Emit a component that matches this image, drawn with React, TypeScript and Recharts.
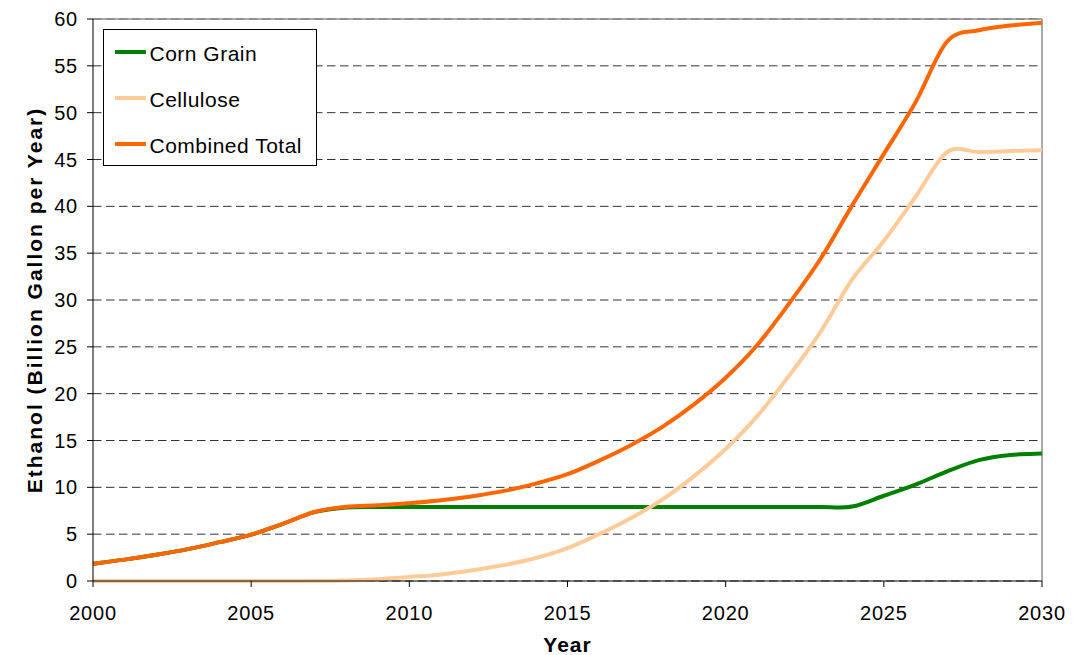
import React from 'react';
import { LineChart, Line, XAxis, YAxis, CartesianGrid, Legend, ReferenceLine } from 'recharts';

const FONT = '"Liberation Sans", Arial, Helvetica, sans-serif';

// Annual ethanol production outlook, billion gallons per year
const years = [
  2000, 2001, 2002, 2003, 2004, 2005, 2006, 2007, 2008, 2009,
  2010, 2011, 2012, 2013, 2014, 2015, 2016, 2017, 2018, 2019,
  2020, 2021, 2022, 2023, 2024, 2025, 2026, 2027, 2028, 2029, 2030,
];

const cornGrain = [
  1.85, 2.28, 2.8, 3.4, 4.15, 4.95, 6.1, 7.35, 7.85, 7.9,
  7.9, 7.9, 7.9, 7.9, 7.9, 7.9, 7.9, 7.9, 7.9, 7.9,
  7.9, 7.9, 7.9, 7.9, 7.95, 9.1, 10.3, 11.7, 12.9, 13.45, 13.6,
];

const cellulose = [
  0, 0, 0, 0, 0, 0, 0.01, 0.02, 0.06, 0.19,
  0.43, 0.7, 1.15, 1.7, 2.45, 3.5, 5.0, 6.7, 8.7, 11.2,
  14.1, 17.6, 21.9, 26.6, 32.2, 36.3, 41.0, 45.8, 45.8, 45.9, 46.0,
];

const combinedTotal = [
  1.85, 2.28, 2.8, 3.4, 4.15, 4.95, 6.1, 7.37, 7.92, 8.09,
  8.3, 8.62, 9.05, 9.62, 10.4, 11.4, 12.85, 14.5, 16.45, 18.85,
  21.7, 25.2, 29.6, 34.4, 40.1, 45.6, 51.1, 57.6, 58.8, 59.3, 59.6,
];

const xTicks = [2000, 2005, 2010, 2015, 2020, 2025, 2030];
const yTicks = [0, 5, 10, 15, 20, 25, 30, 35, 40, 45, 50, 55, 60];

const seriesNames = ['Corn Grain', 'Cellulose', 'Combined Total'];

const data = years.map((year, i) => ({
  year,
  corn: cornGrain[i],
  cellulose: cellulose[i],
  total: combinedTotal[i],
}));

// Smoothed line in the style of spreadsheet charts: each segment is a cubic
// Bezier whose handles follow the neighbouring points (Catmull-Rom, 1/6 tension).
function smoothCurve(context: any) {
  let pts: number[][] = [];
  return {
    areaStart() {},
    areaEnd() {},
    lineStart() {
      pts = [];
    },
    point(x: number, y: number) {
      pts.push([+x, +y]);
    },
    lineEnd() {
      const n = pts.length;
      if (!n) return;
      context.moveTo(pts[0][0], pts[0][1]);
      for (let i = 0; i < n - 1; i++) {
        const p0 = pts[Math.max(i - 1, 0)];
        const p1 = pts[i];
        const p2 = pts[i + 1];
        const p3 = pts[Math.min(i + 2, n - 1)];
        context.bezierCurveTo(
          p1[0] + (p2[0] - p0[0]) / 6,
          p1[1] + (p2[1] - p0[1]) / 6,
          p2[0] - (p3[0] - p1[0]) / 6,
          p2[1] - (p3[1] - p1[1]) / 6,
          p2[0],
          p2[1]
        );
      }
    },
  };
}

const LegendBox = (props: any) => {
  const items = [...(props.payload ?? [])].sort(
    (a: any, b: any) => seriesNames.indexOf(a.value) - seriesNames.indexOf(b.value)
  );
  return (
    <div
      style={{
        width: 214,
        height: 137,
        border: '1px solid #000',
        background: '#fff',
        boxSizing: 'border-box',
        fontFamily: FONT,
        color: '#000',
      }}
    >
      {items.map((it: any) => (
        <div key={it.value} style={{ height: 46, position: 'relative' }}>
          <div
            style={{
              position: 'absolute',
              left: 11,
              top: 19.5,
              width: 31,
              height: 4,
              background: it.color,
            }}
          />
          <span
            style={{
              position: 'absolute',
              left: 45.5,
              top: 12,
              fontSize: 21,
              lineHeight: '24px',
              letterSpacing: 0.5,
              whiteSpace: 'nowrap',
            }}
          >
            {it.value}
          </span>
        </div>
      ))}
    </div>
  );
};

const YTitle = (props: any) => {
  const vb = props.viewBox;
  const cy = vb ? vb.y + vb.height / 2 : 300;
  const bx = 42;
  return (
    <text
      x={bx}
      y={cy}
      transform={`rotate(-90 ${bx} ${cy})`}
      textAnchor="middle"
      fontFamily={FONT}
      fontSize={21}
      fontWeight="bold"
      letterSpacing={2}
      fill="#000"
    >
      Ethanol (Billion Gallon per Year)
    </text>
  );
};

const XTitle = (props: any) => {
  const vb = props.viewBox;
  const cx = vb ? vb.x + vb.width / 2 : 567;
  return (
    <text
      x={cx}
      y={651.5}
      textAnchor="middle"
      fontFamily={FONT}
      fontSize={21}
      fontWeight="bold"
      letterSpacing={1}
      fill="#000"
    >
      Year
    </text>
  );
};

const tickStyle = { fill: '#000', fontSize: 20, fontFamily: FONT, letterSpacing: 0.8 };

export default function App() {
  return (
    <div
      style={{
        position: 'absolute',
        left: 0,
        top: 0,
        width: 1080,
        height: 655,
        background: '#fff',
        fontFamily: FONT,
      }}
    >
      <LineChart
        width={1080}
        height={655}
        data={data}
        margin={{ top: 19, right: 38, bottom: 0, left: 0 }}
      >
        <CartesianGrid vertical={false} stroke="#333" strokeDasharray="8.5 4.5" />
        <XAxis
          dataKey="year"
          type="number"
          domain={[2000, 2030]}
          ticks={xTicks}
          interval={0}
          height={74}
          axisLine={{ stroke: '#000', strokeWidth: 1 }}
          tickLine={{ stroke: '#000' }}
          tickSize={6}
          tickMargin={19}
          tick={tickStyle}
          label={<XTitle />}
        />
        <YAxis
          type="number"
          domain={[0, 60]}
          ticks={yTicks}
          interval={0}
          width={93}
          axisLine={{ stroke: '#000', strokeWidth: 1 }}
          tickLine={{ stroke: '#000' }}
          tickSize={6}
          tickMargin={9}
          tick={tickStyle}
          label={<YTitle />}
        />
        <ReferenceLine y={60} stroke="#8c8c8c" strokeWidth={1.5} />
        <ReferenceLine x={2030} stroke="#8c8c8c" strokeWidth={1.5} />
        <Legend
          layout="vertical"
          align="center"
          verticalAlign="middle"
          content={<LegendBox />}
          wrapperStyle={{ left: 103, top: 29, width: 214, height: 137, margin: 0 }}
        />
        <Line
          name="Corn Grain"
          dataKey="corn"
          type={smoothCurve as any}
          stroke="#008000"
          strokeWidth={4}
          dot={false}
          activeDot={false}
          isAnimationActive={false}
        />
        <Line
          name="Cellulose"
          dataKey="cellulose"
          type={smoothCurve as any}
          stroke="#FFCC99"
          strokeWidth={4}
          dot={false}
          activeDot={false}
          isAnimationActive={false}
        />
        <Line
          name="Combined Total"
          dataKey="total"
          type={smoothCurve as any}
          stroke="#FF6600"
          strokeWidth={4}
          dot={false}
          activeDot={false}
          isAnimationActive={false}
        />
      </LineChart>
    </div>
  );
}
